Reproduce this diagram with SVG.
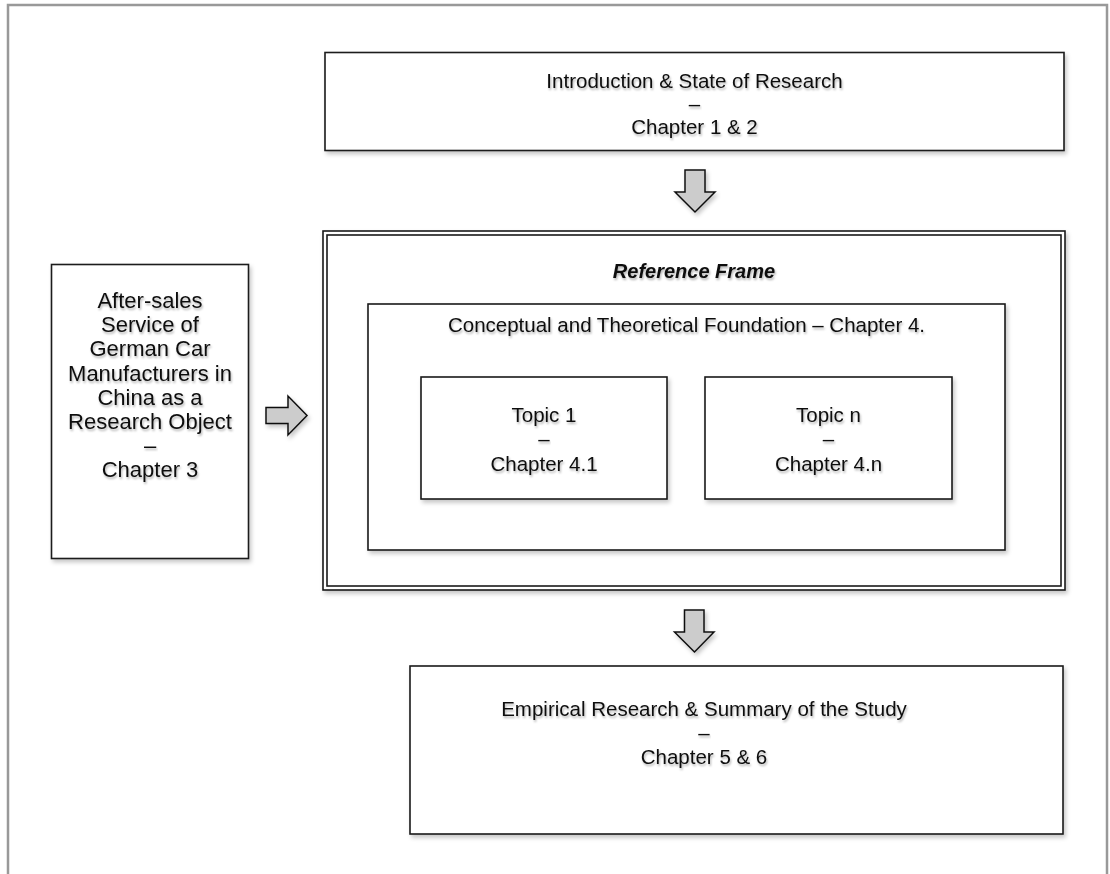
<svg xmlns="http://www.w3.org/2000/svg" width="1110" height="874" viewBox="0 0 1110 874">
  <defs>
    <filter id="boxShadow" x="-10%" y="-10%" width="125%" height="130%">
      <feDropShadow dx="2" dy="3" stdDeviation="2" flood-color="#000" flood-opacity="0.22"/>
    </filter>
    <filter id="textShadow" x="-5%" y="-20%" width="110%" height="150%">
      <feDropShadow dx="1" dy="2" stdDeviation="1.2" flood-color="#000" flood-opacity="0.3"/>
    </filter>
  </defs>
  <style>
    .box { fill: #ffffff; stroke: #1a1a1a; stroke-width: 1.6; filter: url(#boxShadow); }
    .frameLine { fill: none; stroke: #1a1a1a; stroke-width: 1.6; }
    .arrow { fill: #cccccc; stroke: #111111; stroke-width: 1.5; stroke-linejoin: miter; filter: url(#boxShadow); }
    .label { font-family: "Liberation Sans", Arial, sans-serif; font-size: 20.5px; fill: #111111; text-anchor: middle; filter: url(#textShadow); }
    .side { font-size: 22px; }
    .title { font-weight: bold; font-style: italic; font-size: 20px; }
  </style>

  <rect width="1110" height="874" fill="#ffffff"/>
  <!-- page border -->
  <rect x="8" y="5" width="1099" height="900" fill="none" stroke="#999999" stroke-width="2.5"/>

  <g id="intro">
    <rect class="box" x="325" y="52.5" width="739" height="98"/>
    <text class="label" x="694.5" y="88">Introduction &amp; State of Research</text>
    <text class="label" x="694.5" y="111">–</text>
    <text class="label" x="694.5" y="134">Chapter 1 &amp; 2</text>
  </g>

  <g id="research-object">
    <rect class="box" x="51.5" y="264.5" width="197" height="294"/>
    <text class="label side" x="150" y="308">After-sales</text>
    <text class="label side" x="150" y="332.2">Service of</text>
    <text class="label side" x="150" y="356.4">German Car</text>
    <text class="label side" x="150" y="380.6">Manufacturers in</text>
    <text class="label side" x="150" y="404.8">China as a</text>
    <text class="label side" x="150" y="429">Research Object</text>
    <text class="label side" x="150" y="453.2">–</text>
    <text class="label side" x="150" y="477.4">Chapter 3</text>
  </g>

  <g id="reference-frame">
    <rect class="box" x="323" y="231" width="742" height="359"/>
    <rect class="frameLine" x="327" y="235" width="734" height="351"/>
    <text class="label title" x="694" y="278">Reference Frame</text>
  </g>

  <g id="foundation">
    <rect class="box" x="368" y="304" width="637" height="246"/>
    <text class="label" x="686.5" y="332">Conceptual and Theoretical Foundation – Chapter 4.</text>
  </g>

  <g id="topic-1">
    <rect class="box" x="421" y="377" width="246" height="122"/>
    <text class="label" x="544" y="422">Topic 1</text>
    <text class="label" x="544" y="446">–</text>
    <text class="label" x="544" y="470.5">Chapter 4.1</text>
  </g>

  <g id="topic-n">
    <rect class="box" x="705" y="377" width="247" height="122"/>
    <text class="label" x="828.5" y="422">Topic n</text>
    <text class="label" x="828.5" y="446">–</text>
    <text class="label" x="828.5" y="470.5">Chapter 4.n</text>
  </g>

  <g id="empirical">
    <rect class="box" x="410" y="666" width="653" height="168"/>
    <text class="label" x="704" y="716">Empirical Research &amp; Summary of the Study</text>
    <text class="label" x="704" y="740">–</text>
    <text class="label" x="704" y="764">Chapter 5 &amp; 6</text>
  </g>

  <g id="connectors">
    <!-- intro to reference frame -->
    <path class="arrow" d="M685,170 H705 V192 H715 L695,212 L675,192 H685 Z"/>
    <!-- research object to reference frame -->
    <path class="arrow" d="M266,407.5 H288 V396 L307,415.5 L288,435 V423.5 H266 Z"/>
    <!-- reference frame to empirical part -->
    <path class="arrow" d="M684.5,610 H704 V632 H714 L694.5,652 L674.5,632 H684.5 Z"/>
  </g>
</svg>
